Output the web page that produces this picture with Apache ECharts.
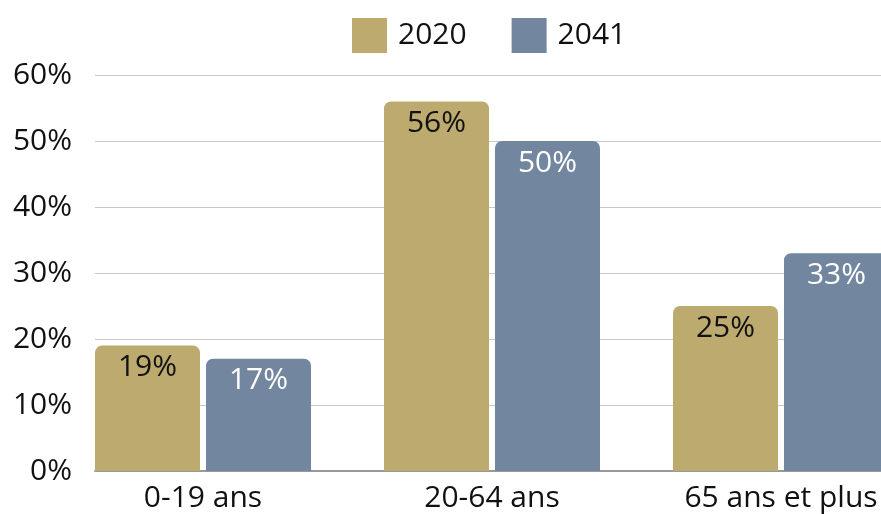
<!DOCTYPE html>
<html>
<head>
<meta charset="utf-8">
<script src="https://cdn.jsdelivr.net/npm/echarts@6/dist/echarts.min.js"></script>
<style>html,body{margin:0;padding:0;background:#fff;}#c{width:881px;height:514px;}</style>
</head>
<body>
<div id="c"></div>
<script>
var categories = ['0-19 ans', '20-64 ans', '65 ans et plus'];
var series2020 = [19, 56, 25];
var series2041 = [17, 50, 33];
var yTicks = [0, 10, 20, 30, 40, 50, 60];

var FONT = '"Open Sans", sans-serif';
var chart = echarts.init(document.getElementById('c'));
chart.setOption({
  animation: false,
  textStyle: { fontFamily: FONT },
  legend: {
    left: 347, top: 13,
    itemWidth: 35, itemHeight: 35, itemGap: 45,
    icon: 'rect',
    textStyle: { fontSize: 30, color: '#111', fontFamily: FONT, padding: [0, 0, 0, 6] },
    data: ['2020', '2041']
  },
  grid: [
    { left: 95, right: 0, top: 75, bottom: 43, outerBoundsMode: 'none', containLabel: false },
    { left: 58.5, width: 867, top: 75, bottom: 43, outerBoundsMode: 'none', containLabel: false }
  ],
  xAxis: [
    { type: 'category', gridIndex: 0, data: [''], axisLine: { show: true, lineStyle: { color: '#999', width: 2 } },
      axisTick: { show: false }, axisLabel: { show: false } },
    { type: 'category', gridIndex: 1, data: categories, axisLine: { show: false }, axisTick: { show: false },
      axisLabel: { fontSize: 30, color: '#111', fontFamily: FONT, margin: 12 } }
  ],
  yAxis: [
    { type: 'value', gridIndex: 0, min: yTicks[0], max: yTicks[yTicks.length - 1], interval: 10,
      axisLabel: { formatter: '{value}%', fontSize: 30, color: '#111', fontFamily: FONT, margin: 23 },
      splitLine: { lineStyle: { color: '#c8c8c8', width: 1 } }, axisLine: { show: false }, axisTick: { show: false } },
    { type: 'value', gridIndex: 1, min: 0, max: 60, show: false, splitLine: { show: false } }
  ],
  series: [
    { name: '2020', type: 'bar', xAxisIndex: 1, yAxisIndex: 1, data: series2020, barWidth: 105, barGap: '5.7%',
      itemStyle: { color: '#BDAA6F', borderRadius: [7, 7, 0, 0] },
      label: { show: true, position: 'insideTop', distance: 7, formatter: '{c}%', fontSize: 30, color: '#111', fontFamily: FONT } },
    { name: '2041', type: 'bar', xAxisIndex: 1, yAxisIndex: 1, data: series2041, barWidth: 105, barGap: '5.7%',
      itemStyle: { color: '#72879F', borderRadius: [7, 7, 0, 0] },
      label: { show: true, position: 'insideTop', distance: 7, formatter: '{c}%', fontSize: 30, color: '#fff', fontFamily: FONT } }
  ]
});
</script>
</body>
</html>
